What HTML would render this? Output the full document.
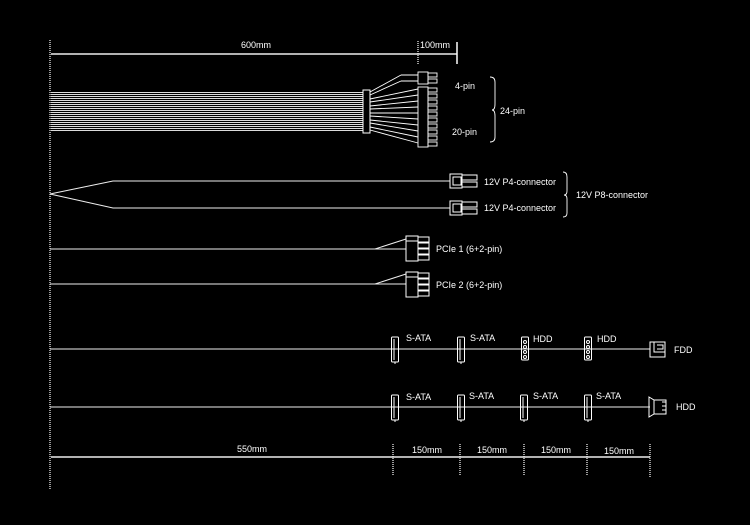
<!DOCTYPE html>
<html><head><meta charset="utf-8"><style>
html,body{margin:0;padding:0;background:#000;}
svg{display:block;}
text{font-family:"Liberation Sans",sans-serif;font-size:9px;fill:#fff;}
</style></head><body>
<svg width="750" height="525" viewBox="0 0 750 525" xmlns="http://www.w3.org/2000/svg">
<defs>
<pattern id="wires" x="0" y="92" width="4" height="2" patternUnits="userSpaceOnUse">
<rect x="0" y="0" width="4" height="1" fill="#ddd"/>
</pattern>
<g id="sata" fill="none" stroke="#fff" stroke-width="1">
<rect x="-3.5" y="-12" width="7" height="25" rx="1"/>
<line x1="-1" y1="-10" x2="-1" y2="11"/>
<line x1="0" y1="13" x2="0" y2="15"/>
</g>
<g id="molex" fill="none" stroke="#fff" stroke-width="1">
<rect x="-3.5" y="-12" width="7" height="23" rx="1"/>
<circle cx="0" cy="-7" r="1.5"/><circle cx="0" cy="-2" r="1.5"/><circle cx="0" cy="3" r="1.5"/><circle cx="0" cy="8" r="1.5"/>
</g>
<g id="pcie" fill="none" stroke="#fff" stroke-width="1">
<rect x="0" y="0" width="12" height="25"/>
<rect x="12" y="1" width="11" height="5"/><rect x="12" y="7" width="11" height="5"/>
<rect x="12" y="13" width="11" height="5"/><rect x="12" y="19" width="11" height="5"/>
<line x1="0" y1="5" x2="12" y2="5"/>
</g>
<g id="p4" fill="none" stroke="#fff" stroke-width="1">
<rect x="0" y="0" width="12" height="14"/>
<rect x="3" y="3" width="8" height="8"/>
<rect x="12" y="1" width="15" height="5"/><rect x="12" y="8" width="15" height="5"/>
</g>
</defs>
<rect width="750" height="525" fill="#000"/>
<!-- left dashed line -->
<line x1="50" y1="40" x2="50" y2="490" stroke="#fff" stroke-width="1.2" stroke-dasharray="1,1"/>
<!-- top dimension -->
<line x1="51" y1="54" x2="457" y2="54" stroke="#eee" stroke-width="1.5"/>
<line x1="418" y1="41" x2="418" y2="64" stroke="#fff" stroke-width="1.2" stroke-dasharray="1,1"/>
<line x1="457" y1="42" x2="457" y2="64" stroke="#fff" stroke-width="1.5"/>
<text x="241" y="48">600mm</text>
<text x="420" y="48">100mm</text>
<!-- 24 pin -->
<rect x="51" y="92" width="312" height="40" fill="url(#wires)"/>
<rect x="363" y="90" width="7" height="43" fill="none" stroke="#fff"/>
<g stroke="#fff" stroke-width="0.9" fill="none">
<line x1="370" y1="92" x2="401" y2="75"/><line x1="401" y1="75" x2="418" y2="75"/>
<line x1="370" y1="95" x2="401" y2="81"/><line x1="401" y1="81" x2="418" y2="81"/>
<line x1="370" y1="99" x2="418" y2="89"/>
<line x1="370" y1="102" x2="418" y2="95"/>
<line x1="370" y1="106" x2="418" y2="101"/>
<line x1="370" y1="109" x2="418" y2="107"/>
<line x1="370" y1="113" x2="418" y2="113"/>
<line x1="370" y1="116" x2="418" y2="119"/>
<line x1="370" y1="120" x2="418" y2="125"/>
<line x1="370" y1="123" x2="418" y2="131"/>
<line x1="370" y1="127" x2="418" y2="137"/>
<line x1="370" y1="130" x2="418" y2="143"/>
<rect x="418" y="72" width="10" height="12"/>
<rect x="428" y="73" width="9" height="4"/><rect x="428" y="79" width="9" height="4"/>
<rect x="418" y="87" width="10" height="60"/>
<rect x="428" y="88" width="9" height="4"/><rect x="428" y="94" width="9" height="4"/>
<rect x="428" y="100" width="9" height="4"/><rect x="428" y="106" width="9" height="4"/>
<rect x="428" y="112" width="9" height="4"/><rect x="428" y="118" width="9" height="4"/>
<rect x="428" y="124" width="9" height="4"/><rect x="428" y="130" width="9" height="4"/>
<rect x="428" y="136" width="9" height="4"/><rect x="428" y="142" width="9" height="4"/>
<path d="M490,77 Q495,77 495,82 L495,104 Q495,110 492,110 Q495,110 495,116 L495,137 Q495,142 490,142"/>
<path d="M563,172 Q567,172 567,177 L567,191 Q567,195 564,195 Q567,195 567,199 L567,213 Q567,217 563,217"/>
</g>
<text x="455" y="89">4-pin</text>
<text x="452" y="135">20-pin</text>
<text x="500" y="114">24-pin</text>
<!-- P4 -->
<g stroke="#eee" stroke-width="1" fill="none">
<polyline points="450,181 113,181 50,194 113,208 450,208"/>
<line x1="50" y1="249" x2="406" y2="249"/>
<line x1="375" y1="249" x2="406" y2="239"/>
<line x1="50" y1="284" x2="406" y2="284"/>
<line x1="375" y1="284" x2="406" y2="274"/>
<line x1="50" y1="349" x2="650" y2="349"/>
<line x1="50" y1="407" x2="650" y2="407"/>
</g>
<use href="#p4" x="450" y="174"/>
<use href="#p4" x="450" y="201"/>
<text x="484" y="185">12V P4-connector</text>
<text x="484" y="211">12V P4-connector</text>
<text x="576" y="198">12V P8-connector</text>
<use href="#pcie" x="406" y="236"/>
<use href="#pcie" x="406" y="272"/>
<text x="436" y="252">PCIe 1 (6+2-pin)</text>
<text x="436" y="288">PCIe 2 (6+2-pin)</text>
<!-- row 5 -->
<use href="#sata" x="395" y="349"/>
<use href="#sata" x="461" y="349"/>
<use href="#molex" x="525" y="349"/>
<use href="#molex" x="588" y="349"/>
<g fill="none" stroke="#fff" stroke-width="1">
<rect x="650" y="342" width="15" height="15"/>
<polyline points="654,342 654,352 665,352"/>
<polyline points="657,345 663,345 663,349 657,349"/>
</g>
<text x="406" y="341">S-ATA</text>
<text x="470" y="341">S-ATA</text>
<text x="533" y="342">HDD</text>
<text x="597" y="342">HDD</text>
<text x="674" y="353">FDD</text>
<!-- row 6 -->
<use href="#sata" x="395" y="407"/>
<use href="#sata" x="461" y="407"/>
<use href="#sata" x="524" y="407"/>
<use href="#sata" x="588" y="407"/>
<g fill="none" stroke="#fff" stroke-width="1">
<polygon points="649,397 654,400 666,400 666,414 654,414 649,417"/>
<line x1="654" y1="400" x2="654" y2="414"/>
<line x1="662" y1="402" x2="666" y2="402"/><line x1="662" y1="406" x2="666" y2="406"/>
<line x1="662" y1="410" x2="666" y2="410"/>
</g>
<text x="406" y="400">S-ATA</text>
<text x="469" y="399">S-ATA</text>
<text x="533" y="399">S-ATA</text>
<text x="596" y="399">S-ATA</text>
<text x="676" y="410">HDD</text>
<!-- bottom dimension -->
<line x1="51" y1="457" x2="650" y2="457" stroke="#eee" stroke-width="1.5"/>
<g stroke="#fff" stroke-width="1.2" stroke-dasharray="1,1">
<line x1="393" y1="444" x2="393" y2="475"/>
<line x1="460" y1="444" x2="460" y2="475"/>
<line x1="524" y1="444" x2="524" y2="475"/>
<line x1="587" y1="444" x2="587" y2="475"/>
<line x1="650" y1="444" x2="650" y2="477"/>
</g>
<text x="237" y="452">550mm</text>
<text x="412" y="453">150mm</text>
<text x="477" y="453">150mm</text>
<text x="541" y="453">150mm</text>
<text x="604" y="454">150mm</text>
</svg>
</body></html>
